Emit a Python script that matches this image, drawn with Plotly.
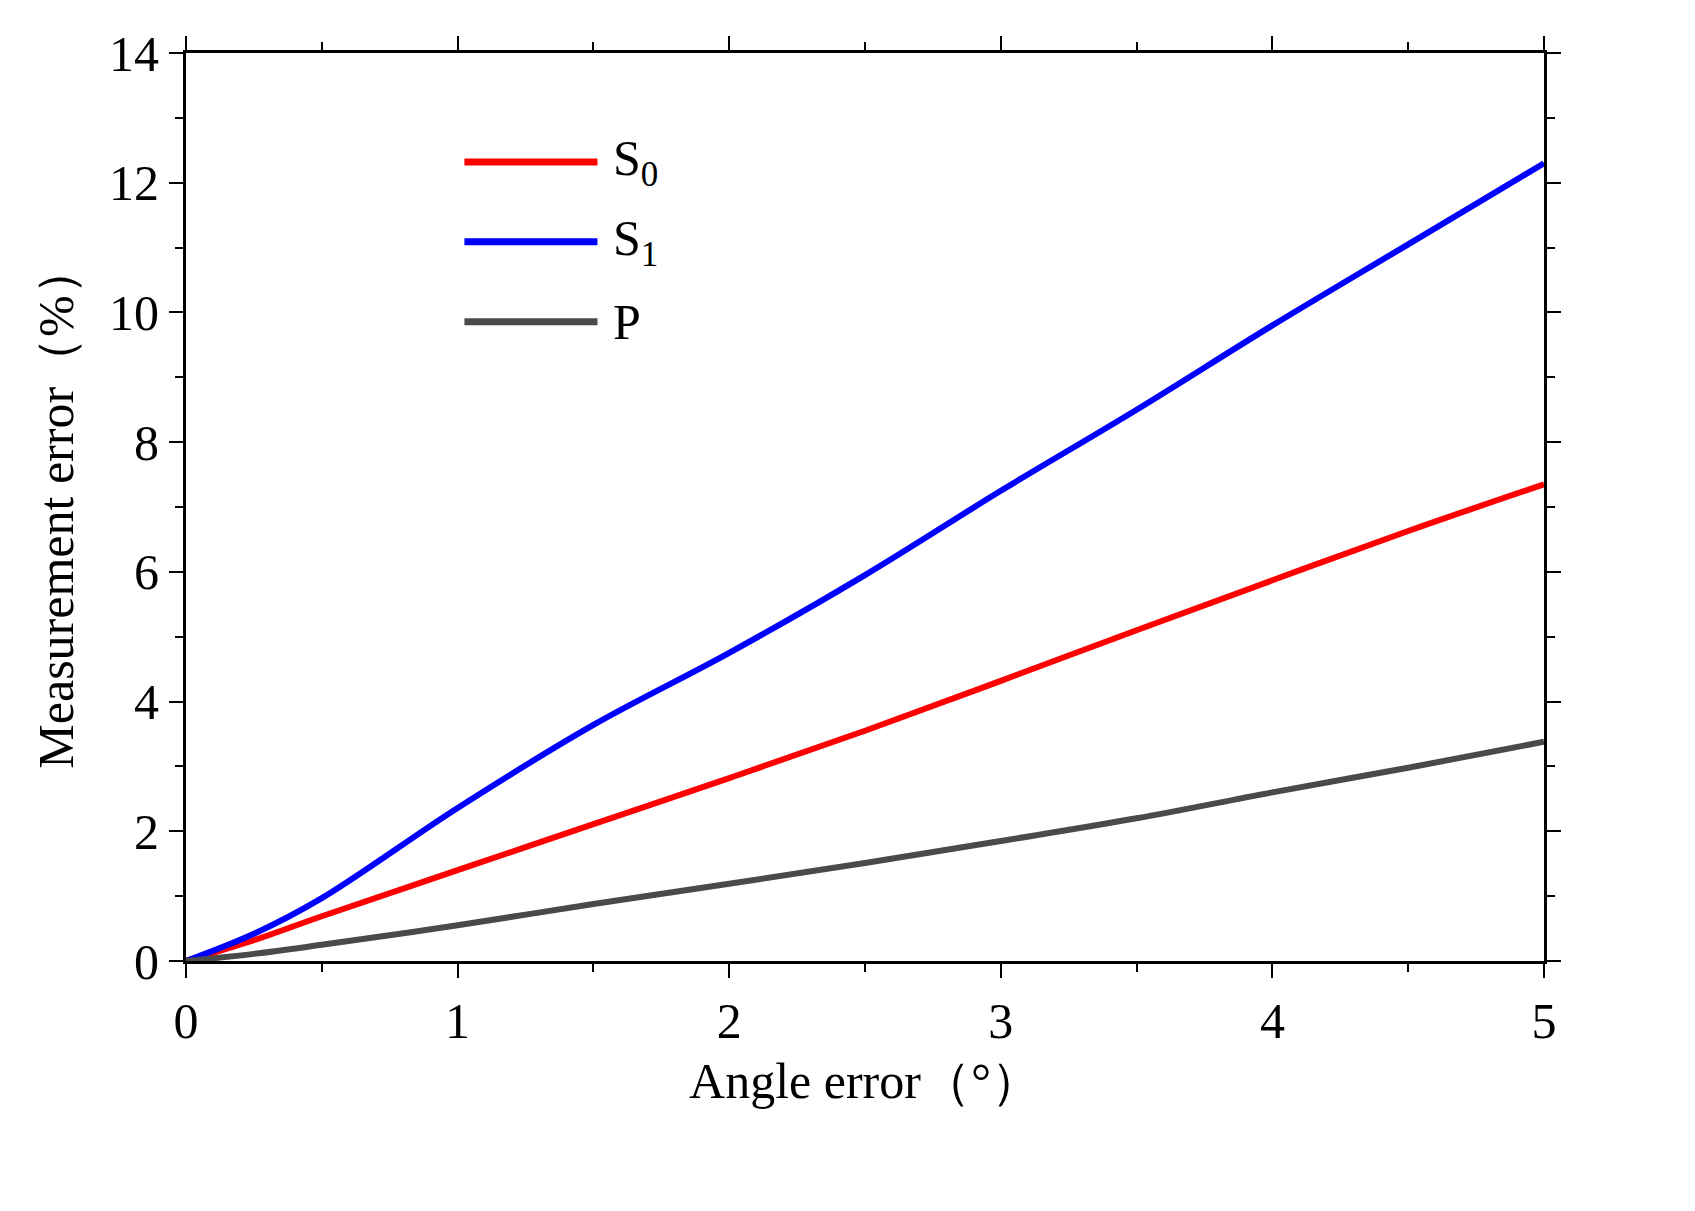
import plotly.graph_objects as go

x = [0, 0.25, 0.5, 1, 1.5, 2, 2.5, 3, 3.5, 4, 4.5, 5]
s0 = [0, 0.32, 0.69, 1.4, 2.11, 2.82, 3.55, 4.32, 5.1, 5.87, 6.63, 7.35]
s1 = [0, 0.42, 0.97, 2.36, 3.64, 4.75, 5.95, 7.25, 8.5, 9.8, 11.05, 12.3]
p = [0, 0.11, 0.25, 0.55, 0.88, 1.19, 1.51, 1.85, 2.2, 2.6, 2.98, 3.38]
names = ["S<sub>0</sub>", "S<sub>1</sub>", "P"]
colors = ["#ff0000", "#0000ff", "#4a4a4a"]

fig = go.Figure()
for ys, c, n in zip([s0, s1, p], colors, names):
    fig.add_trace(go.Scatter(x=x, y=ys, mode="lines", line=dict(color=c, width=6, shape="spline"), name=n, showlegend=False))

font = dict(family="Liberation Serif", size=50, color="black")
# manual legend
for i, (c, n) in enumerate(zip(colors, names)):
    yy = 0.88 - i * 0.088
    fig.add_shape(type="line", xref="paper", yref="paper", x0=0.205, x1=0.303, y0=yy, y1=yy,
                  line=dict(color=c, width=7))
    fig.add_annotation(xref="paper", yref="paper", x=0.313, y=yy, text=n, showarrow=False,
                       xanchor="left", yanchor="middle", font=font)

axis = dict(showline=True, linecolor="black", linewidth=3, mirror="ticks", ticks="outside",
            ticklen=14, tickwidth=2, tickcolor="black", showgrid=False, zeroline=False,
            tickfont=font)
fig.update_layout(
    width=1695, height=1211, plot_bgcolor="white", paper_bgcolor="white",
    margin=dict(l=178, r=159, t=45, b=258),
    xaxis=dict(range=[0, 5], dtick=1, minor=dict(dtick=0.5, ticks="outside", ticklen=8, tickcolor="black", tickwidth=2),
               title=dict(text="Angle error（°）", font=font, standoff=15), **axis),
    yaxis=dict(range=[0, 14], dtick=2, minor=dict(dtick=1, ticks="outside", ticklen=8, tickcolor="black", tickwidth=2),
               title=dict(text="Measurement error（%）", font=font, standoff=20), **axis),
)
fig.write_html("out.html")
